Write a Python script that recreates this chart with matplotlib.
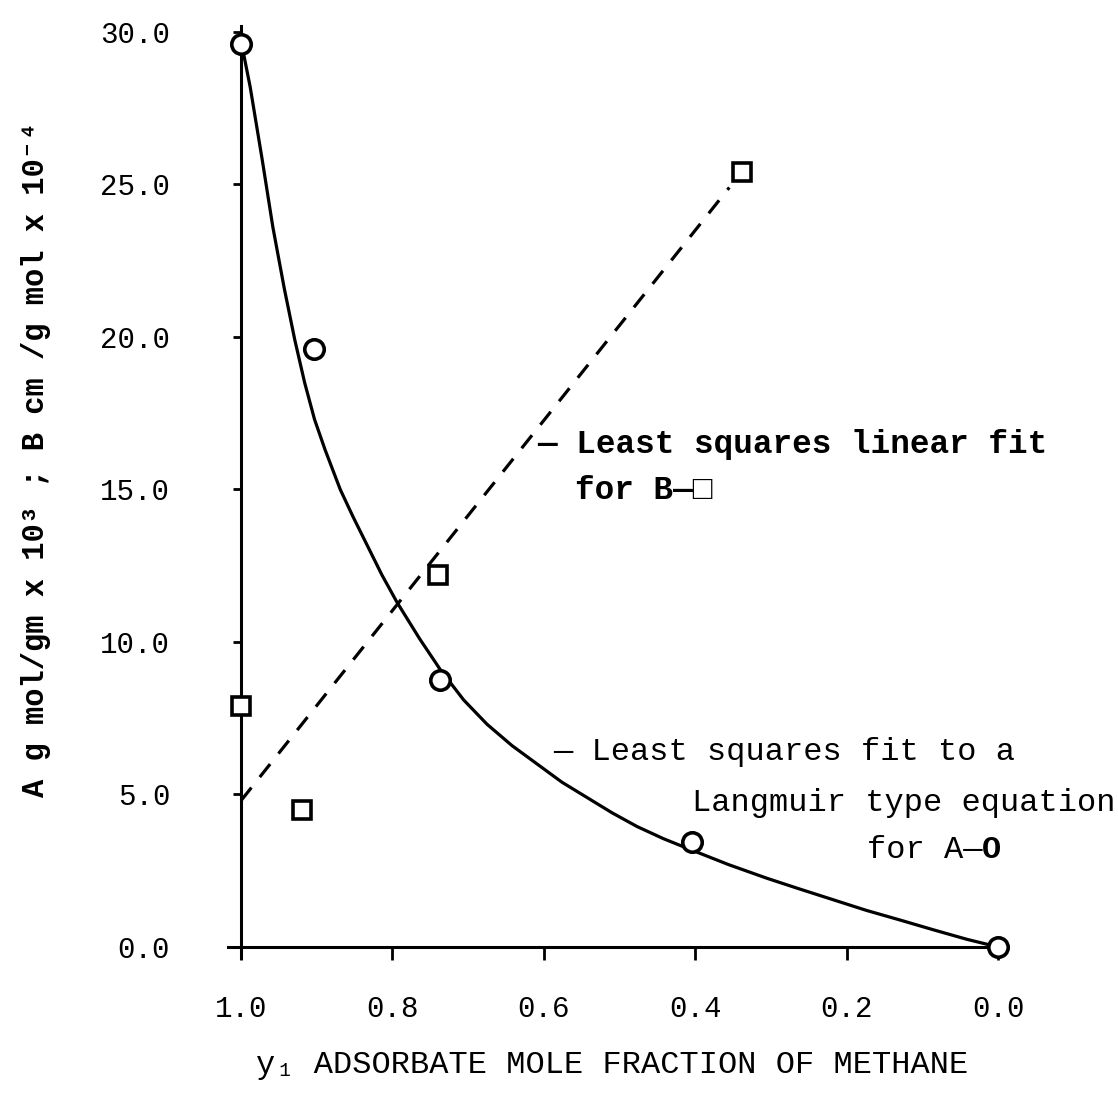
import matplotlib
matplotlib.use("Agg")
import matplotlib.pyplot as plt

# A values (circles) and B values (squares)
a_x = [1.0, 0.904, 0.737, 0.404, 0.0]
a_y = [29.6, 19.6, 8.75, 3.45, 0.0]
b_x = [1.0, 0.919, 0.740, 0.338]
b_y = [7.9, 4.5, 12.2, 25.4]

# least squares fit to Langmuir type equation for A (traced curve)
a_fit_x = [1.0, 0.988, 0.972, 0.958, 0.943, 0.929, 0.916, 0.903, 0.889,
           0.869, 0.852, 0.834, 0.814, 0.794, 0.764, 0.737, 0.706, 0.675,
           0.642, 0.609, 0.576, 0.543, 0.510, 0.477, 0.442, 0.407, 0.356,
           0.305, 0.262, 0.218, 0.174, 0.129, 0.085, 0.041, 0.0]
a_fit_y = [29.7, 28.2, 25.8, 23.6, 21.6, 19.9, 18.5, 17.3, 16.3,
           15.0, 14.1, 13.2, 12.2, 11.3, 10.1, 9.1, 8.1, 7.3,
           6.6, 6.0, 5.4, 4.9, 4.4, 3.95, 3.55, 3.2, 2.7,
           2.25, 1.9, 1.55, 1.2, 0.88, 0.56, 0.25, 0.0]

# least squares linear fit for B (end points)
b_fit_x = [1.0, 0.355]
b_fit_y = [4.8, 24.9]

x_ticks = [1.0, 0.8, 0.6, 0.4, 0.2, 0.0]
y_ticks = [0, 5, 10, 15, 20, 25, 30]

mono = ["Liberation Mono", "DejaVu Sans Mono"]
plt.rcParams["font.family"] = mono

fig = plt.figure(figsize=(11.18, 10.95), dpi=100)
ax = fig.add_axes([0.175, 0.0934, 0.7448, 0.9053])
ax.set_xlim(1.06, -0.04)
ax.set_ylim(-1.5, 31)

lw = 2.3
ax.plot(a_fit_x, a_fit_y, color="black", lw=lw, solid_joinstyle="round",
        solid_capstyle="round", zorder=2)
ax.plot(b_fit_x, b_fit_y, color="black", lw=lw, dashes=(5.2, 4.2), zorder=2)
ax.plot(a_x, a_y, "o", ms=14, mfc="white", mec="black", mew=2.6, zorder=3)
ax.plot(b_x, b_y, "s", ms=13, mfc="white", mec="black", mew=2.6, zorder=3)

# axes: left line at x = 1.0, bottom line at y = 0
for s in ["top", "right"]:
    ax.spines[s].set_visible(False)
ax.spines["left"].set_position(("data", 1.0))
ax.spines["bottom"].set_position(("data", 0.0))
ax.spines["left"].set_bounds(-0.35, 30.2)
ax.spines["bottom"].set_bounds(0.0, 1.017)
ax.spines["left"].set_linewidth(2.2)
ax.spines["bottom"].set_linewidth(2.2)

ax.set_xticks(x_ticks)
ax.set_xticklabels([f"{v:.1f}" for v in x_ticks])
ax.set_yticks(y_ticks)
ax.set_yticklabels([f"{v:.1f}" for v in y_ticks])
ax.tick_params(axis="y", direction="out", length=6, width=2, pad=45, labelsize=21)
ax.tick_params(axis="x", direction="out", length=9.5, width=2, pad=25, labelsize=21)

ax.set_xlabel("y\u2081 ADSORBATE MOLE FRACTION OF METHANE", fontsize=23)
ax.xaxis.set_label_coords(0.5, -0.0729)
ax.xaxis.label.set_va("center")

fig.text(0.032, 1 - 459 / 1095,
         "A g mol/gm x 10\u00b3 ; B cm /g mol x 10\u207b\u2074",
         rotation=90, fontsize=22, fontweight="bold",
         ha="center", va="center")

bold = dict(fontsize=23.5, fontweight="bold", ha="left", va="center")
ax.text(0.609, 16.46, "\u2014 Least squares linear fit", **bold)
ax.text(0.559, 14.95, "for B\u2014\u25a1", **bold)

norm = dict(fontsize=23, ha="left", va="center")
ax.text(0.588, 6.39, "\u2014 Least squares fit to a", **norm)
ax.text(0.404, 4.72, "Langmuir type equation", **norm)
ax.text(0.173, 3.18, "for A\u2014", **norm)
# bold circle symbol after "for A—" (6 mono cells of 0.6 em)
ax.annotate("O", xy=(0.173, 3.18), xytext=(6 * 0.6 * 23, 0),
            textcoords="offset points", fontsize=23, fontweight="bold",
            ha="left", va="center")

fig.savefig("out.png", dpi=100, facecolor="white")
